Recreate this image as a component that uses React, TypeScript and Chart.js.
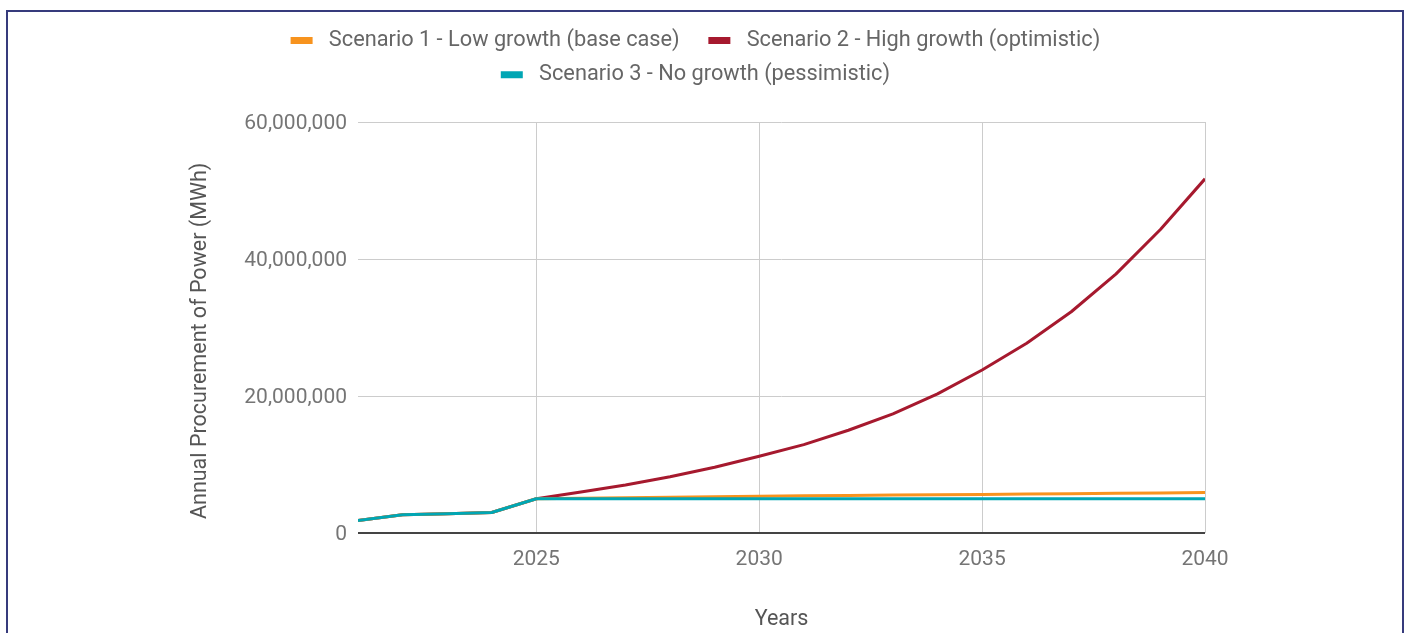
import React, { useEffect, useRef } from 'react';
import { Chart, registerables } from 'chart.js';

Chart.register(...registerables);

const years = [2021, 2022, 2023, 2024, 2025, 2026, 2027, 2028, 2029, 2030, 2031, 2032, 2033, 2034, 2035, 2036, 2037, 2038, 2039, 2040];

const scenario1Low = [1820000, 2660000, 2800000, 3000000, 5000000, 5080000, 5150000, 5230000, 5300000, 5380000, 5430000, 5480000, 5530000, 5580000, 5630000, 5680000, 5730000, 5790000, 5850000, 5910000];
const scenario2High = [1820000, 2660000, 2800000, 3000000, 5000000, 6000000, 7000000, 8200000, 9600000, 11200000, 12900000, 15000000, 17400000, 20300000, 23800000, 27700000, 32300000, 37800000, 44300000, 51700000];
const scenario3None = [1820000, 2660000, 2800000, 3000000, 5000000, 5000000, 5000000, 5000000, 5000000, 5000000, 5000000, 5000000, 5000000, 5000000, 5000000, 5000000, 5000000, 5000000, 5000000, 5000000];

const seriesLabels = [
  'Scenario 1 - Low growth (base case)',
  'Scenario 2 - High growth (optimistic)',
  'Scenario 3 - No growth (pessimistic)',
];
const seriesColors = ['#F7931E', '#A6192E', '#00A6B4'];

const xTickYears = [2025, 2030, 2035, 2040];
const yTickValues = [0, 20000000, 40000000, 60000000];
const yTitle = 'Annual Procurement of Power (MWh)';
const xTitle = 'Years';

export default function App() {
  const ref = useRef<HTMLCanvasElement>(null);

  useEffect(() => {
    if (!ref.current) return;
    const toPoints = (vals: number[]) => years.map((yr, i) => ({ x: yr, y: vals[i] }));
    const tickFont = { family: 'Roboto', size: 21 };
    const titleFont = { family: 'Roboto', size: 21.5 };

    const chart = new Chart(ref.current, {
      type: 'line',
      data: {
        datasets: [
          {
            label: seriesLabels[0],
            data: toPoints(scenario1Low),
            borderColor: seriesColors[0],
            backgroundColor: seriesColors[0],
            order: 1,
          },
          {
            label: seriesLabels[1],
            data: toPoints(scenario2High),
            borderColor: seriesColors[1],
            backgroundColor: seriesColors[1],
            order: 2,
          },
          {
            label: seriesLabels[2],
            data: toPoints(scenario3None),
            borderColor: seriesColors[2],
            backgroundColor: seriesColors[2],
            order: 0,
          },
        ],
      },
      options: {
        responsive: false,
        animation: false,
        layout: { padding: { top: 17, left: 0, right: 0, bottom: 0 } },
        elements: {
          point: { radius: 0, hoverRadius: 0 },
          line: { tension: 0, borderWidth: 3, borderJoinStyle: 'round' },
        },
        plugins: {
          legend: {
            position: 'top',
            align: 'center',
            labels: {
              font: { family: 'Roboto', size: 21.75 },
              color: '#666666',
              boxWidth: 22,
              boxHeight: 7,
              padding: 12.5,
              generateLabels: (c: any) => {
                const items = (Chart.defaults as any).plugins.legend.labels.generateLabels(c);
                return items.map((it: any) => ({ ...it, text: ' ' + it.text + '   ', lineWidth: 0 }));
              },
              sort: (a: any, b: any) => a.datasetIndex - b.datasetIndex,
            },
          },
          title: {
            display: true,
            text: '',
            position: 'top',
            weight: 500,
            padding: { top: 14.5, bottom: 0 },
            font: { size: 10 },
          },
          tooltip: { enabled: false },
        },
        scales: {
          x: {
            type: 'linear',
            min: 2021,
            max: 2040,
            afterBuildTicks: (s: any) => {
              s.ticks = xTickYears.map((v) => ({ value: v }));
            },
            afterFit: (s: any) => {
              s.height = 100;
            },
            grid: { color: '#cccccc', lineWidth: 1, drawTicks: false },
            border: { display: false },
            ticks: {
              font: tickFont,
              color: '#757575',
              padding: 14,
              maxRotation: 0,
              callback: (v: any) => String(v),
            },
            title: {
              display: true,
              text: xTitle,
              font: titleFont,
              color: '#555555',
              padding: { top: 0, bottom: 0 },
            },
          },
          y: {
            type: 'linear',
            min: 0,
            max: 60000000,
            afterBuildTicks: (s: any) => {
              s.ticks = yTickValues.map((v) => ({ value: v }));
            },
            afterFit: (s: any) => {
              s.width = 218;
            },
            grid: {
              color: (c: any) => (c.tick && c.tick.value === 0 ? '#444444' : '#cccccc'),
              lineWidth: (c: any) => (c.tick && c.tick.value === 0 ? 2 : 1),
              drawTicks: false,
            },
            border: { display: false },
            ticks: {
              font: tickFont,
              color: '#757575',
              padding: 11,
              labelOffset: 2,
              callback: (v: any) => Number(v).toLocaleString('en-US'),
            },
            title: {
              display: true,
              text: yTitle + '     ',
              font: titleFont,
              color: '#555555',
              padding: { top: 48, bottom: 0 },
            },
          },
          yRightSpace: {
            type: 'linear',
            position: 'right',
            display: true,
            grid: { display: false },
            border: { display: false },
            ticks: { display: false },
            afterFit: (s: any) => {
              s.width = 62;
            },
          },
        },
      } as any,
    });

    return () => chart.destroy();
  }, []);

  return (
    <div style={{ position: 'absolute', left: 0, top: 0, width: 1407, height: 633, overflow: 'hidden', background: '#ffffff' }}>
      <div
        style={{
          position: 'absolute',
          left: 6,
          top: 10,
          width: 1398,
          height: 700,
          border: '2px solid #363b7c',
          boxSizing: 'border-box',
        }}
      />
      <canvas
        ref={ref}
        width={1127}
        height={633}
        style={{ position: 'absolute', left: 140, top: 0, width: 1127, height: 633 }}
      />
    </div>
  );
}
